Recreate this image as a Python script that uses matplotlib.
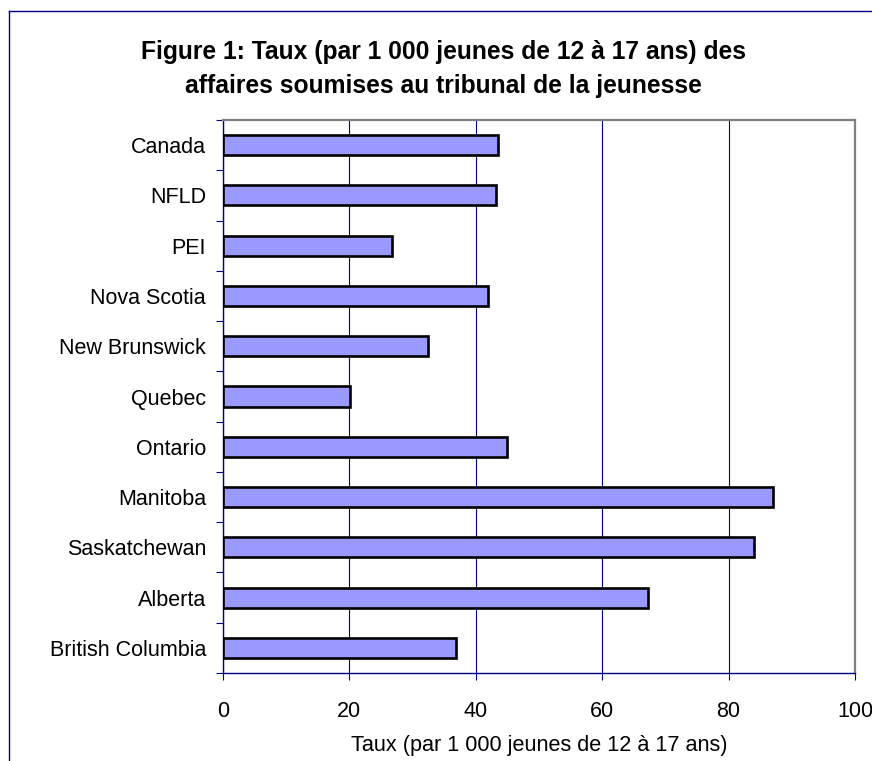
import numpy as np
import matplotlib
matplotlib.use("Agg")
import matplotlib.pyplot as plt
from matplotlib.lines import Line2D

plt.rcParams['font.family'] = ['Liberation Sans', 'DejaVu Sans']

# data (rate per 1,000 youths aged 12-17)
provinces = ["Canada", "NFLD", "PEI", "Nova Scotia", "New Brunswick", "Quebec",
             "Ontario", "Manitoba", "Saskatchewan", "Alberta", "British Columbia"]
rates = [43.6, 43.2, 26.8, 42.0, 32.4, 20.2, 45.0, 87.1, 84.1, 67.2, 36.9]
x_ticks = [0, 20, 40, 60, 80, 100]

title_lines = ["Figure 1: Taux (par 1 000 jeunes de 12 à 17 ans) des",
               "affaires soumises au tribunal de la jeunesse"]
x_label = "Taux (par 1 000 jeunes de 12 à 17 ans)"

navy = "#000080"
W, H = 872, 761
fig = plt.figure(figsize=(W / 100, H / 100), dpi=100)

# outer chart-area border (cut off on the right and bottom like the source)
fig.add_artist(Line2D([8.5 / W, 8.5 / W], [-0.1, 1 - 10.5 / H], color=navy, lw=1.0))
fig.add_artist(Line2D([8.5 / W, 1.1], [1 - 10.5 / H, 1 - 10.5 / H], color=navy, lw=1.0))

ax = fig.add_axes([222.7 / W, 1 - 673 / H, (855 - 222.7) / W, (673 - 120) / H])

n = len(provinces)
ypos = np.arange(n)[::-1]
ax.barh(ypos, rates, height=0.4, color="#9999FF", edgecolor="black", linewidth=1.9, zorder=3)

ax.set_xlim(0, 100)
ax.set_ylim(-0.5, n - 0.5)
ax.set_xticks(x_ticks)
ax.set_yticks(ypos)
ax.set_yticklabels(provinces)
ax.set_yticks(np.arange(-0.5, n), minor=True)

ax.xaxis.grid(True, color=navy, lw=0.8, zorder=0)
ax.tick_params(axis="x", direction="out", length=5, width=0.8, color=navy,
               labelsize=15.5, pad=15)
ax.tick_params(axis="y", which="major", length=0, labelsize=15.5, pad=12)
ax.tick_params(axis="y", which="minor", direction="out", length=5, width=0.8, color=navy)

for side in ("left", "bottom"):
    ax.spines[side].set_color(navy)
    ax.spines[side].set_linewidth(1.0)
for side in ("top", "right"):
    ax.spines[side].set_color("#808080")
    ax.spines[side].set_linewidth(1.6)

ax.set_xlabel(x_label, fontsize=15.6)
ax.xaxis.set_label_coords(0.5, -(746 - 673) / (673 - 120))
ax.xaxis.label.set_va("center")

fig.text(443 / W, 1 - 59.3 / H, title_lines[0], ha="center", va="baseline",
         fontsize=17.7, fontweight="bold")
fig.text(443 / W, 1 - 92.7 / H, title_lines[1], ha="center", va="baseline",
         fontsize=17.7, fontweight="bold")

fig.savefig("out.png", dpi=100)
